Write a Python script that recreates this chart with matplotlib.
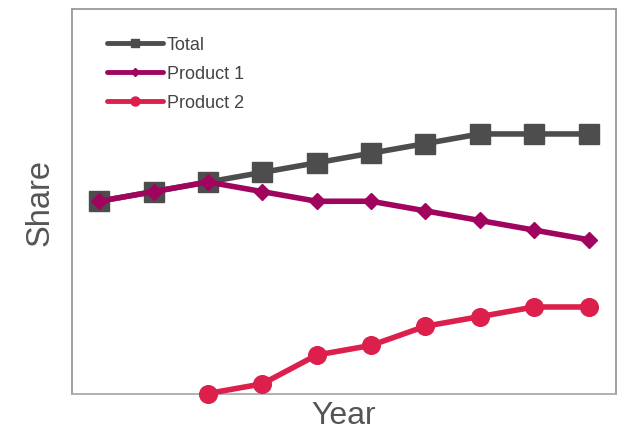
import matplotlib
matplotlib.use("Agg")
import matplotlib.pyplot as plt

plt.rcParams['font.family'] = ['Liberation Sans', 'DejaVu Sans']

years = list(range(10))
total = [20, 21, 22, 23, 24, 25, 26, 27, 27, 27]
product1 = [20, 21, 22, 21, 20, 20, 19, 18, 17, 16]
product2_years = list(range(2, 10))
product2 = [0, 1, 4, 5, 7, 8, 9, 9]

fig = plt.figure(figsize=(6.2, 4.31), dpi=100)
ax = fig.add_axes([72 / 620, (431 - 394.5) / 431, (615.7 - 72) / 620, (394.5 - 10) / 431])

common = dict(lw=4, clip_on=False, solid_capstyle='round', solid_joinstyle='round')
ax.plot(years, total, color='#4d4d4d', marker='s', ms=13.7,
        label='Total', zorder=3, **common)
ax.plot(years, product1, color='#a0045e', marker='D', ms=8.3,
        label='Product 1', zorder=4, **common)
ax.plot(product2_years, product2, color='#dc1f4b', marker='o', ms=12.7,
        label='Product 2', zorder=5, **common)

ax.set_xlim(-0.5, 9.5)
ax.set_ylim(0, 40)
ax.set_xticks([])
ax.set_yticks([])

for side in ['left', 'top', 'right']:
    ax.spines[side].set_color('#999999')
    ax.spines[side].set_linewidth(1.3)
ax.spines['bottom'].set_color('#aaaaaa')
ax.spines['bottom'].set_linewidth(1.3)

ax.set_xlabel('Year', fontsize=23, color='#555555', labelpad=4.5)
ax.set_ylabel('Share', fontsize=23.5, color='#555555', labelpad=12)

leg = ax.legend(loc='upper left', frameon=False, fontsize=13, handlelength=3.1,
                handletextpad=0.22, labelspacing=0.66, borderpad=0,
                borderaxespad=0, bbox_to_anchor=(0.064, 0.929))
legend_marker_sizes = [5.8, 3.6, 6.5]
for h, s in zip(leg.legend_handles, legend_marker_sizes):
    h.set_markersize(s)
    h.set_linewidth(3.5)
for t in leg.get_texts():
    t.set_color('#444444')

fig.savefig('out.png', dpi=100)
